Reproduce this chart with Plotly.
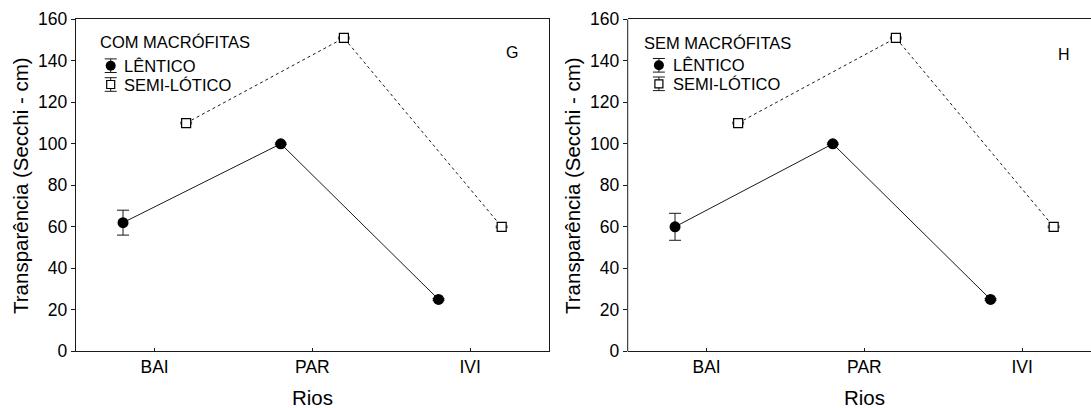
import numpy as np
import plotly.graph_objects as go

categories = ["BAI", "PAR", "IVI"]
lentico_com = [62, 100, 25]
lentico_com_err = [6, 0.4, 0.4]
semi_com = [110, 151, 60]
semi_com_err = [0.4, 0.4, 0.4]
lentico_sem = [60, 100, 25]
lentico_sem_err = [6.5, 0.4, 0.4]
semi_sem = [110, 151, 60]
semi_sem_err = [0.4, 0.4, 0.4]
y_ticks = [0, 20, 40, 60, 80, 100, 120, 140, 160]
legend_titles = ["COM MACRÓFITAS", "SEM MACRÓFITAS"]
series_names = ["LÊNTICO", "SEMI-LÓTICO"]
panel_labels = ["G", "H"]

W, H = 1091, 408
S = 0  # page body margin is removed by post_script
idx = np.arange(len(categories))
off = 0.2
ink = "#1a1a1a"
FONT = "Liberation Sans, Arial, sans-serif"

def fx(px):  # screen x -> paper fraction
    return (px - S) / W

def fy(py):  # screen y -> paper fraction
    return (H - (py - S)) / H

# geometry in screen pixels
L1, R1 = 75.7, 549.0
L2 = 627.7
R2 = float(W)  # right panel runs off the right edge, as in the reference
TOP, BOT = 19.3, 351.3
unit = (R1 - L1) / 3.0
r2max = -0.5 + (R2 - L2) / unit
ydom = [fy(BOT), fy(TOP)]

circle_m = dict(symbol="circle", size=11, color="black")
square_m = dict(symbol="square", size=9, color="white", line=dict(color="black", width=1.2))

fig = go.Figure()

def add_panel(xa, ya, lval, lerr, sval, serr):
    fig.add_trace(go.Scatter(
        x=idx - off, y=lval, mode="lines+markers", xaxis=xa, yaxis=ya, name=series_names[0],
        line=dict(color=ink, width=1), marker=circle_m,
        error_y=dict(type="data", array=lerr, color=ink, thickness=1, width=6),
        showlegend=False))
    fig.add_trace(go.Scatter(
        x=idx + off, y=sval, mode="lines+markers", xaxis=xa, yaxis=ya, name=series_names[1],
        line=dict(color=ink, width=1, dash="dot"), marker=square_m,
        error_y=dict(type="data", array=serr, color=ink, thickness=1, width=6),
        showlegend=False))

add_panel("x", "y", lentico_com, lentico_com_err, semi_com, semi_com_err)
add_panel("x2", "y2", lentico_sem, lentico_sem_err, semi_sem, semi_sem_err)

# legend keys (layout decoration) on an overlay pixel axis
legend_geo = [  # (title_x, symbol_x, text_x) in screen px
    (97.7, 110.7, 123.3),
    (641.9, 658.9, 672.2),
]
row_y = [(42.2, 65.7, 84.5), (43.0, 65.3, 83.8)]
for (tx, sx, lx), (ty, y1, y2) in zip(legend_geo, row_y):
    for yy, m in [(y1, circle_m), (y2, square_m)]:
        fig.add_trace(go.Scatter(
            x=[sx - S], y=[yy - S], mode="markers", xaxis="x3", yaxis="y3",
            marker=dict(m, size=m["size"] - 1), hoverinfo="skip", showlegend=False,
            error_y=dict(type="constant", value=6.8, color=ink, thickness=1, width=6)))

xcommon = dict(tickmode="array", tickvals=idx, ticktext=categories,
               ticks="inside", ticklen=3, tickcolor=ink, showline=True, linecolor=ink,
               linewidth=1, mirror=True, showgrid=False, zeroline=False, automargin=False,
               tickfont=dict(family=FONT, size=17.5, color="black"))
ycommon = dict(range=[0, 160], tickmode="array", tickvals=y_ticks,
               ticks="outside", ticklen=4, tickcolor=ink, linecolor=ink,
               linewidth=1, showgrid=False, zeroline=False, automargin=False,
               tickfont=dict(family=FONT, size=17.5, color="black"), domain=ydom)

fig.update_layout(
    template="none",
    width=W, height=H, autosize=False,
    margin=dict(l=0, r=0, t=0, b=0, pad=0, autoexpand=False),
    paper_bgcolor="white", plot_bgcolor="rgba(0,0,0,0)",
    font=dict(family=FONT, color="black"),
    showlegend=False,
    xaxis=dict(domain=[fx(L1), fx(R1)], range=[-0.5, 2.5], **xcommon),
    yaxis=dict(anchor="x", mirror=True, showline=True, **ycommon),
    xaxis2=dict(domain=[fx(L2), 1.0], range=[-0.5, r2max], anchor="y2", **xcommon),
    yaxis2=dict(anchor="x2", mirror=False, showline=False, **ycommon),
    xaxis3=dict(domain=[0, 1], range=[0, W], visible=False, anchor="y3", automargin=False,
                fixedrange=True),
    yaxis3=dict(domain=[0, 1], range=[H, 0], visible=False, anchor="x3", automargin=False,
                fixedrange=True),
    shapes=[dict(type="line", xref="x2 domain", yref="y2 domain", x0=0, x1=0, y0=0, y1=1,
                 line=dict(color=ink, width=1))],
)

ann = []
# legend texts
for k, ((tx, sx, lx), (ty, y1, y2)) in enumerate(zip(legend_geo, row_y)):
    ann.append(dict(text=legend_titles[k], xref="paper", yref="paper", x=fx(tx), y=fy(ty),
                    showarrow=False, xanchor="left", yanchor="middle",
                    font=dict(size=16.5, family=FONT, color="black")))
    for yy, nm in zip((y1, y2), series_names):
        ann.append(dict(text=nm, xref="paper", yref="paper", x=fx(lx - 1), y=fy(yy),
                        showarrow=False, xanchor="left", yanchor="middle",
                        font=dict(size=16.5, family=FONT, color="black")))
# panel letters
for lab, (px, py) in zip(panel_labels, [(511.7, 52.0), (1064.0, 55.0)]):
    ann.append(dict(text=lab, xref="paper", yref="paper", x=fx(px), y=fy(py),
                    showarrow=False, xanchor="center", yanchor="middle",
                    font=dict(size=16, family=FONT, color="black")))
# axis titles
for cx in [(L1 + R1) / 2, L2 + (R1 - L1) / 2]:
    ann.append(dict(text="Rios", xref="paper", yref="paper", x=fx(cx), y=fy(397),
                    showarrow=False, xanchor="center", yanchor="middle",
                    font=dict(size=20.5, family=FONT, color="black")))
for ax in [L1, L2]:
    ann.append(dict(text="Transparência (Secchi - cm)", xref="paper", yref="paper",
                    x=fx(ax - 55), y=fy((TOP + BOT) / 2), textangle=-90,
                    showarrow=False, xanchor="center", yanchor="middle",
                    font=dict(size=20.5, family=FONT, color="black")))
fig.update_layout(annotations=ann)

fig.write_html(
    "out.html",
    config={"displayModeBar": False},
    post_script="document.body.style.margin='0';document.body.style.overflow='hidden';",
)
